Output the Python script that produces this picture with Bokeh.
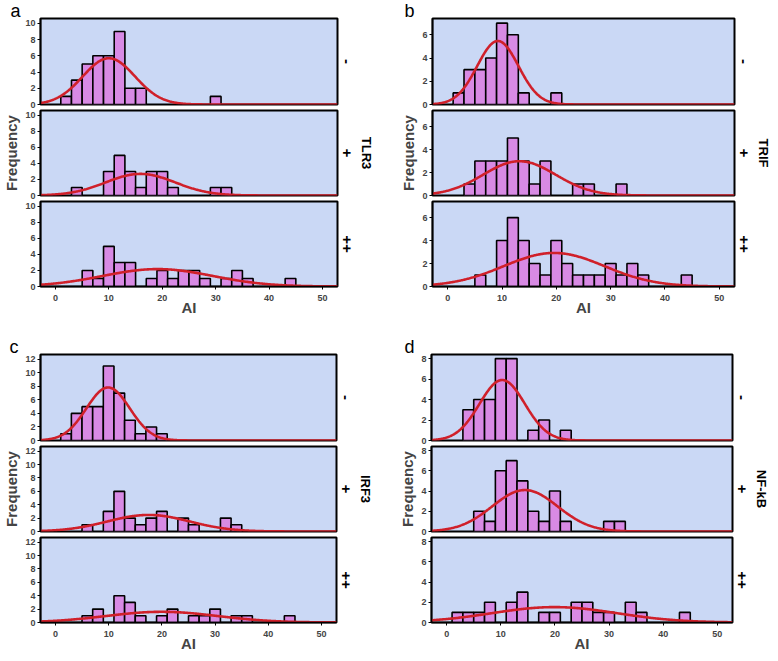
import numpy as np
from bokeh.plotting import figure
from bokeh.layouts import column, row
from bokeh.models import Range1d, FixedTicker, Title
from bokeh.embed import file_html
from bokeh.resources import INLINE

# ---------------- data ----------------
BIN_CENTERS = [2, 4, 6, 8, 10, 12, 14, 16, 18, 20, 22, 24, 26, 28, 30, 32, 34, 36, 38, 40, 42, 44]
BIN_WIDTH = 2
X_TICKS = [0, 10, 20, 30, 40, 50]
GROUPS = ["-", "+", "++"]

TLR3_NEG = [1, 3, 5, 6, 6, 9, 2, 2, 0, 0, 0, 0, 0, 0, 1, 0, 0, 0, 0, 0, 0, 0]
TLR3_POS = [0, 1, 0, 0, 3, 5, 3, 1, 3, 3, 1, 0, 0, 0, 1, 1, 0, 0, 0, 0, 0, 0]
TLR3_PP = [0, 0, 2, 1, 5, 3, 3, 0, 1, 2, 1, 2, 2, 1, 0, 1, 2, 1, 0, 0, 0, 1]

TRIF_NEG = [1, 3, 3, 4, 7, 6, 1, 0, 0, 1, 0, 0, 0, 0, 0, 0, 0, 0, 0, 0, 0, 0]
TRIF_POS = [0, 1, 3, 3, 3, 5, 3, 1, 3, 0, 0, 1, 1, 0, 0, 1, 0, 0, 0, 0, 0, 0]
TRIF_PP = [0, 0, 1, 0, 4, 6, 4, 2, 1, 4, 2, 1, 1, 1, 2, 1, 2, 1, 0, 0, 0, 1]

IRF3_NEG = [1, 4, 5, 5, 11, 7, 3, 1, 2, 1, 0, 0, 0, 0, 0, 0, 0, 0, 0, 0, 0, 0]
IRF3_POS = [0, 0, 1, 0, 3, 6, 2, 1, 2, 3, 0, 2, 1, 0, 0, 2, 1, 0, 0, 0, 0, 0]
IRF3_PP = [0, 0, 1, 2, 0, 4, 3, 1, 0, 1, 2, 0, 1, 1, 2, 0, 1, 1, 0, 0, 0, 1]

NFKB_NEG = [0, 3, 4, 4, 8, 8, 0, 1, 2, 0, 1, 0, 0, 0, 0, 0, 0, 0, 0, 0, 0, 0]
NFKB_POS = [0, 0, 2, 1, 6, 7, 5, 2, 1, 4, 1, 0, 0, 0, 1, 1, 0, 0, 0, 0, 0, 0]
NFKB_PP = [1, 1, 1, 2, 0, 2, 3, 0, 1, 1, 0, 2, 2, 1, 1, 0, 2, 1, 0, 0, 0, 1]

PANEL_LETTERS = ["a", "b", "c", "d"]
MARKERS = ["TLR3", "TRIF", "IRF3", "NF-kB"]
PANEL_COUNTS = [[TLR3_NEG, TLR3_POS, TLR3_PP], [TRIF_NEG, TRIF_POS, TRIF_PP],
                [IRF3_NEG, IRF3_POS, IRF3_PP], [NFKB_NEG, NFKB_POS, NFKB_PP]]
Y_MAX = [10.6, 7.4, 12.7, 8.4]
Y_TICKS = [[0, 2, 4, 6, 8, 10], [0, 2, 4, 6], [0, 2, 4, 6, 8, 10, 12], [0, 2, 4, 6, 8]]

# ---------------- style / geometry ----------------
X0, X1 = -2.8, 52.8
BG = "#cad8f5"
BAR = "#d88ae4"
RED = "#d0202a"
FONT = "Liberation Sans"

GEOM = [
    dict(left=37, fw=297, right=51, top=18, letter_dx=-30),
    dict(left=44, fw=302, right=40, top=18, letter_dx=-28),
    dict(left=39, fw=296, right=50, top=36, letter_dx=-31),
    dict(left=45, fw=301, right=40, top=36, letter_dx=-27),
]
FRAME_H = [86, 85, 85]
TOP_AFTER = 2
BOTTOM_BETWEEN = 4


def set_standoff(model, attr, val, fallback=0):
    try:
        setattr(model, attr, val)
    except Exception:
        setattr(model, attr, fallback)


def style_axis(ax):
    ax.major_label_text_font = FONT
    ax.major_label_text_font_style = "bold"
    ax.major_label_text_font_size = "9px"
    ax.major_tick_out = 3
    ax.major_tick_in = 0
    ax.minor_tick_out = 0
    ax.minor_tick_in = 0
    ax.axis_line_color = "black"
    ax.axis_line_width = 1.5


def sub_fig(counts, k, panel):
    g = GEOM[panel]
    ymax = Y_MAX[panel]
    last = k == 2
    top = g["top"] if k == 0 else TOP_AFTER
    bottom = 2 if last else BOTTOM_BETWEEN
    p = figure(frame_width=g["fw"], frame_height=FRAME_H[k],
               x_range=Range1d(X0, X1), y_range=Range1d(0, ymax),
               output_backend="svg", toolbar_location=None, title=None,
               x_axis_location="below" if last else None,
               min_border_left=g["left"], min_border_right=g["right"],
               min_border_top=top, min_border_bottom=bottom)
    p.background_fill_color = BG
    p.border_fill_color = "white"
    p.outline_line_color = "black"
    p.outline_line_width = 2
    p.grid.visible = False

    ax = p.yaxis[0]
    ax.ticker = FixedTicker(ticks=Y_TICKS[panel])
    style_axis(ax)
    ax.major_label_standoff = 2
    if k == 1:
        ax.axis_label = "Frequency"
        ax.axis_label_text_font = FONT
        ax.axis_label_text_font_style = "bold"
        ax.axis_label_text_font_size = "15px"
        ax.axis_label_standoff = 2

    if last:
        xa = p.xaxis[0]
        xa.ticker = FixedTicker(ticks=X_TICKS)
        style_axis(xa)
        xa.major_label_standoff = 5
        xa.axis_label = "AI"
        xa.axis_label_text_font = FONT
        xa.axis_label_text_font_style = "bold"
        xa.axis_label_text_font_size = "15px"
        set_standoff(xa, "axis_label_standoff", -5)

    xs = [c for c, n in zip(BIN_CENTERS, counts) if n > 0]
    ns = [n for n in counts if n > 0]
    p.vbar(x=xs, top=ns, bottom=0, width=BIN_WIDTH, fill_color=BAR,
           line_color="black", line_width=1.6)

    vals = np.repeat(BIN_CENTERS, counts)
    mu, sd = vals.mean(), vals.std(ddof=1)
    gx = np.linspace(X0, X1, 400)
    gy = len(vals) * BIN_WIDTH / (sd * np.sqrt(2 * np.pi)) * np.exp(-0.5 * ((gx - mu) / sd) ** 2)
    p.line(gx, gy, line_color=RED, line_width=2.6)

    # group label (and marker name) on the right
    p.add_layout(Title(text=GROUPS[k], align="center", standoff=8, text_font=FONT,
                       text_font_style="bold", text_font_size="15px",
                       text_color="black"), "right")
    if k == 1:
        p.add_layout(Title(text=MARKERS[panel], align="center", standoff=2, offset=-5,
                           text_font=FONT, text_font_style="bold", text_font_size="13px",
                           text_color="black"), "right")
    if k == 0:
        t = Title(text=PANEL_LETTERS[panel], align="left", offset=g["letter_dx"],
                  text_font=FONT, text_font_style="normal", text_font_size="18px",
                  text_color="black")
        set_standoff(t, "standoff", -4)
        p.add_layout(t, "above")
    return p


cols = []
for i in range(4):
    cols.append(column(*[sub_fig(PANEL_COUNTS[i][k], k, i) for k in range(3)], spacing=0))

layout = column(row(cols[0], cols[1], spacing=0), row(cols[2], cols[3], spacing=0), spacing=0)

open("out.html", "w").write(file_html(layout, INLINE))
